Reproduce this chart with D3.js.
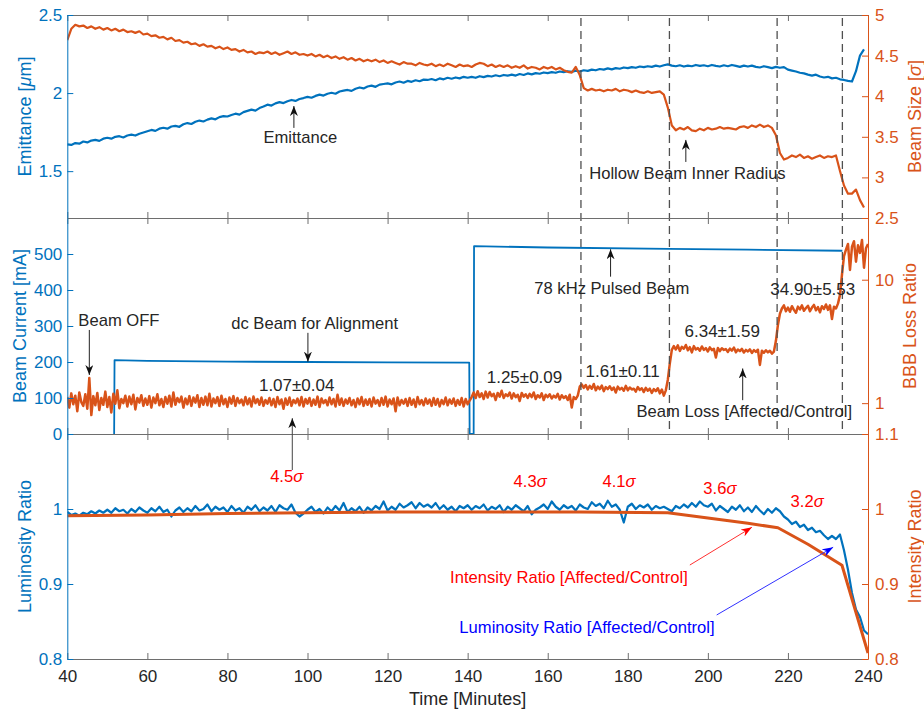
<!DOCTYPE html>
<html>
<head>
<meta charset="utf-8">
<script src="https://cdn.jsdelivr.net/npm/d3@7"></script>
<style>
  html, body { margin: 0; padding: 0; background: #fff; }
  svg { display: block; }
</style>
</head>
<body>
<svg id="chart" width="924" height="710"></svg>
<script>
// ---------------- data ----------------
// x axis
const xTicks = [40, 60, 80, 100, 120, 140, 160, 180, 200, 220, 240];

// top panel: emittance (left axis) and hollow beam inner radius (right axis), one sample per minute from t = 40
const emitStart = 40, emitStep = 1;
const emittance = [
  1.672,1.668,1.680,1.676,1.690,1.684,1.696,1.700,1.694,1.708,
  1.714,1.708,1.720,1.724,1.716,1.728,1.734,1.728,1.740,1.748,
  1.756,1.764,1.758,1.772,1.778,1.772,1.786,1.790,1.784,1.800,
  1.808,1.802,1.816,1.824,1.818,1.830,1.838,1.832,1.846,1.852,
  1.850,1.860,1.868,1.862,1.878,1.886,1.894,1.888,1.904,1.914,
  1.926,1.920,1.934,1.942,1.936,1.948,1.956,1.950,1.962,1.968,
  1.976,1.970,1.982,1.990,1.984,1.996,2.002,1.996,2.010,2.016,
  2.020,2.014,2.028,2.036,2.030,2.042,2.048,2.040,2.054,2.058,
  2.062,2.056,2.068,2.074,2.066,2.078,2.072,2.082,2.076,2.086,
  2.084,2.090,2.082,2.094,2.088,2.098,2.092,2.100,2.094,2.104,
  2.098,2.104,2.098,2.108,2.102,2.110,2.106,2.114,2.108,2.116,
  2.112,2.118,2.112,2.122,2.116,2.126,2.120,2.128,2.124,2.132,
  2.128,2.134,2.130,2.138,2.134,2.140,2.136,2.144,2.138,2.146,
  2.142,2.150,2.146,2.154,2.150,2.158,2.152,2.160,2.156,2.164,
  2.160,2.166,2.162,2.170,2.166,2.172,2.168,2.176,2.170,2.178,
  2.184,2.176,2.172,2.178,2.170,2.176,2.172,2.180,2.174,2.178,
  2.172,2.180,2.174,2.170,2.178,2.172,2.180,2.174,2.168,2.176,
  2.170,2.176,2.168,2.164,2.172,2.166,2.160,2.168,2.162,2.166,
  2.150,2.144,2.138,2.130,2.126,2.118,2.112,2.118,2.106,2.100,
  2.104,2.094,2.098,2.088,2.084,2.078,2.074,2.140,2.240,2.280
];
const beamSize = [
  4.69,4.83,4.88,4.86,4.87,4.84,4.86,4.83,4.85,4.82,
  4.84,4.81,4.83,4.80,4.82,4.79,4.80,4.78,4.80,4.76,
  4.77,4.74,4.75,4.72,4.73,4.70,4.72,4.68,4.69,4.66,
  4.67,4.64,4.65,4.62,4.64,4.61,4.62,4.59,4.61,4.58,
  4.60,4.57,4.58,4.55,4.57,4.54,4.55,4.52,4.54,4.53,
  4.55,4.52,4.54,4.51,4.53,4.55,4.52,4.54,4.51,4.52,
  4.50,4.52,4.49,4.51,4.48,4.50,4.47,4.49,4.46,4.48,
  4.45,4.47,4.44,4.46,4.43,4.45,4.43,4.45,4.42,4.44,
  4.41,4.43,4.41,4.39,4.42,4.40,4.40,4.38,4.41,4.39,
  4.38,4.40,4.37,4.39,4.37,4.40,4.38,4.36,4.39,4.37,
  4.38,4.36,4.39,4.41,4.40,4.37,4.39,4.36,4.38,4.36,
  4.38,4.35,4.37,4.35,4.38,4.34,4.36,4.35,4.33,4.36,
  4.34,4.36,4.33,4.35,4.32,4.30,4.29,4.36,4.26,4.10,
  4.07,4.09,4.07,4.08,4.06,4.08,4.07,4.09,4.06,4.08,
  4.07,4.05,4.07,4.05,4.04,4.06,4.04,4.05,4.06,4.02,
  3.86,3.64,3.58,3.61,3.59,3.62,3.58,3.57,3.60,3.58,
  3.61,3.59,3.60,3.62,3.60,3.61,3.60,3.59,3.62,3.63,
  3.61,3.64,3.62,3.65,3.62,3.64,3.61,3.52,3.30,3.22,
  3.24,3.27,3.25,3.28,3.24,3.26,3.23,3.25,3.27,3.24,
  3.26,3.25,3.27,3.08,2.90,2.80,2.80,2.85,2.72,2.63
];

// middle panel: beam current [mA] (left axis)
const currentTime  = [51.7, 51.8, 60, 80, 100, 120, 140.4, 140.5, 141.5, 141.6, 160, 190, 210, 233.6];
const currentValue = [0,    205,  203, 201, 200, 199, 198,   0,     0,     522,   518, 514, 512, 509];

// middle panel: BBB loss ratio (right, log axis), one sample per half minute from t = 40
const lossStart = 40, lossStep = 0.5;
const lossRatio = [
  1.12,0.92,1.20,0.98,1.15,0.86,1.22,1.02,0.95,1.18,
  0.90,1.60,0.80,1.14,0.96,1.21,0.88,1.10,0.97,1.24,
  0.93,1.12,0.84,1.19,0.99,1.27,0.91,1.08,1.00,1.15,
  0.94,1.13,0.98,1.17,0.89,1.10,1.01,1.16,0.95,1.09,
  0.97,1.14,0.92,1.11,1.00,1.18,0.96,1.08,0.93,1.12,
  0.99,1.15,0.94,1.22,0.97,1.10,1.02,1.13,0.92,1.09,
  0.98,1.14,0.95,1.11,1.01,1.16,0.93,1.10,0.97,1.13,
  0.96,1.19,0.94,1.09,1.00,1.12,0.95,1.15,0.98,1.08,
  0.93,1.11,0.99,1.14,0.95,1.10,1.00,1.07,0.96,1.12,
  0.98,1.09,0.94,1.13,1.00,1.08,0.97,1.11,0.95,1.06,
  0.99,1.10,0.96,1.08,0.93,1.12,0.98,1.07,0.90,1.09,
  0.97,1.11,0.95,1.06,1.00,1.09,0.96,1.12,0.94,1.08,
  0.99,1.10,0.95,1.07,0.97,1.13,0.93,1.09,1.00,1.06,
  0.96,1.11,0.98,1.08,0.94,1.17,0.97,1.09,0.95,1.07,
  0.99,1.10,0.96,1.06,0.93,1.09,0.98,1.12,0.95,1.07,
  0.97,1.08,0.94,1.11,0.99,1.06,0.95,1.10,0.97,1.13,
  0.94,1.07,0.98,1.09,0.86,1.11,0.96,1.06,0.99,1.08,
  0.95,1.10,0.97,1.07,0.93,1.12,0.98,1.06,0.96,1.09,
  0.99,1.07,0.95,1.10,0.97,1.08,0.94,1.06,0.98,1.11,
  0.96,1.07,0.99,1.09,0.95,1.06,0.97,1.10,0.94,1.08,
  0.98,1.05,1.12,1.22,1.10,1.25,1.12,1.20,1.08,1.24,
  1.11,1.23,1.14,1.19,1.06,1.21,1.13,1.26,1.10,1.18,
  1.14,1.22,1.09,1.20,1.12,1.17,1.04,1.21,1.13,1.18,
  1.10,1.19,1.12,1.22,1.08,1.16,1.11,1.20,1.06,1.17,
  1.12,1.18,1.09,1.15,1.11,1.19,1.07,1.16,1.10,1.14,
  1.06,1.17,0.92,1.12,1.08,1.15,1.36,1.42,1.33,1.40,
  1.29,1.38,1.31,1.43,1.27,1.36,1.30,1.39,1.25,1.35,
  1.30,1.37,1.28,1.34,1.22,1.36,1.29,1.33,1.26,1.38,
  1.27,1.34,1.29,1.31,1.24,1.35,1.28,1.32,1.23,1.33,
  1.26,1.31,1.21,1.30,1.25,1.32,1.20,1.29,1.15,1.27,
  1.55,2.10,2.70,2.90,2.72,2.94,2.65,2.86,2.76,2.96,
  2.68,2.84,2.58,2.90,2.72,2.80,2.66,2.88,2.70,2.79,
  2.62,2.83,2.69,2.76,2.34,2.80,2.64,2.78,2.70,2.74,
  2.60,2.77,2.66,2.82,2.58,2.72,2.64,2.75,2.57,2.70,
  2.62,2.73,2.55,2.69,2.60,2.71,2.04,2.66,2.56,2.68,
  2.58,2.66,2.52,2.62,3.20,4.30,5.30,5.85,6.20,5.55,
  5.95,5.50,6.10,5.70,5.40,6.05,5.75,6.20,5.60,5.90,
  6.15,5.55,5.95,6.25,5.65,6.00,5.45,6.10,5.80,6.30,
  5.70,6.20,4.80,6.05,5.85,6.40,7.50,11.0,15.5,17.5,
  19.5,12.0,18.5,20.5,14.0,19.0,16.5,21.0,12.5,18.0,
  19.5
];

// bottom panel: luminosity ratio (left), one sample per minute from t = 40
const lumStart = 40, lumStep = 1;
const luminosity = [
  0.996,0.992,0.994,0.991,0.995,0.993,0.997,0.994,0.998,0.995,
  0.999,0.995,1.001,0.997,0.999,0.994,1.000,0.996,1.002,0.998,
  0.995,1.001,0.997,1.003,0.996,0.999,0.990,0.998,1.002,0.996,
  1.001,0.997,1.004,0.998,1.000,1.006,0.997,1.003,0.999,1.002,
  0.996,1.004,0.998,1.001,0.995,1.003,0.999,1.005,0.997,1.002,
  0.998,1.004,0.996,1.005,1.001,0.999,1.006,0.995,0.990,0.994,
  0.999,1.003,0.996,1.000,0.994,1.002,0.997,1.004,0.998,1.008,
  0.996,1.001,0.997,1.003,0.995,1.002,0.998,1.004,1.000,1.010,
  0.998,1.003,0.999,1.007,1.002,1.005,1.009,1.001,1.008,1.003,
  1.006,1.002,1.008,1.000,1.005,0.999,1.003,0.997,1.004,1.001,
  1.005,0.999,1.004,1.001,1.006,0.998,1.003,1.000,1.005,0.996,
  1.003,0.999,1.005,1.001,0.997,1.004,0.993,0.999,1.002,1.006,
  1.000,1.010,1.003,0.999,1.005,1.001,1.004,0.998,1.006,1.002,
  1.000,1.009,1.004,1.007,1.001,1.011,1.003,1.006,0.999,0.982,
  1.003,1.007,1.000,1.005,1.002,1.006,0.999,1.004,1.001,1.003,
  1.000,0.997,1.004,1.001,1.006,1.002,1.008,1.003,1.010,1.005,
  1.003,1.007,0.998,1.004,1.000,0.996,1.003,0.999,1.005,0.997,
  1.002,0.996,1.004,0.998,0.993,1.000,0.995,1.001,0.997,0.990,
  0.986,0.980,0.983,0.976,0.979,0.972,0.975,0.969,0.971,0.965,
  0.960,0.964,0.960,0.966,0.945,0.919,0.888,0.866,0.856,0.838,
  0.833
];

// bottom panel: intensity ratio (right)
const intensityTime  = [40,    60,    80,    100,   120,   141,   168,   190,   200,   210,   217.5, 225,   233.5, 240];
const intensityRatio = [0.991, 0.992, 0.994, 0.995, 0.996, 0.996, 0.996, 0.995, 0.988, 0.981, 0.975, 0.953, 0.925, 0.808];

// times at which the hollow-beam radius was stepped
const stepTimes = [168.3, 190.4, 217.3, 233.6];

// axis ticks
const emitTicks = [1.5, 2, 2.5];
const sizeTicks = [2.5, 3, 3.5, 4, 4.5, 5];
const currentTicks = [0, 100, 200, 300, 400, 500];
const lossTicks = [1, 10];
const lumTicks = [0.8, 0.9, 1];
const intensityTicks = [0.8, 0.9, 1, 1.1];

// annotation texts
const lossStats = ["1.07±0.04", "1.25±0.09", "1.61±0.11", "6.34±1.59", "34.90±5.53"];
const sigmaSteps = ["4.5", "4.3", "4.1", "3.6", "3.2"];

// ---------------- layout ----------------
const FONT = '"Liberation Sans", Arial, Helvetica, sans-serif';
const BLUE = "#0072BD", ORANGE = "#D95319", FRAME = "#6e6e6e", INK = "#262626";
const NOTE_SIZE = 16.6;
const plotLeft = 67.3, plotRight = 868;
const topP = {y0: 15, y1: 218}, midP = {y0: 218, y1: 434}, botP = {y0: 434, y1: 659};

const svg = d3.select("#chart").attr("font-family", FONT);
svg.append("rect").attr("width", 924).attr("height", 710).attr("fill", "#fff");

const x = d3.scaleLinear().domain([40, 240]).range([plotLeft, plotRight]);
const yEmit = d3.scaleLinear().domain([1.2, 2.5]).range([topP.y1, topP.y0]);
const ySize = d3.scaleLinear().domain([2.5, 5]).range([topP.y1, topP.y0]);
const yCur = d3.scaleLinear().domain([0, 600]).range([midP.y1, midP.y0]);
const yLoss = d3.scaleLog().domain([Math.pow(10, -0.25), Math.pow(10, 1.5)]).range([midP.y1, midP.y0]);
const yLum = d3.scaleLinear().domain([0.8, 1.1]).range([botP.y1, botP.y0]);
const yInt = d3.scaleLinear().domain([0.8, 1.1]).range([botP.y1, botP.y0]);

const defs = svg.append("defs");
[["clipTop", topP], ["clipMid", midP], ["clipBot", botP]].forEach(([id, p]) => {
  defs.append("clipPath").attr("id", id).append("rect")
    .attr("x", plotLeft).attr("y", p.y0 - 1)
    .attr("width", plotRight - plotLeft + 1).attr("height", p.y1 - p.y0 + 2);
});

function arrowMarker(id, color, len, wid) {
  defs.append("marker").attr("id", id)
    .attr("markerUnits", "userSpaceOnUse")
    .attr("viewBox", `0 0 ${len} ${wid}`)
    .attr("markerWidth", len).attr("markerHeight", wid)
    .attr("refX", len).attr("refY", wid / 2)
    .attr("orient", "auto")
    .append("path")
    .attr("d", `M0,0L${len},${wid / 2}L0,${wid}L${len * 0.3},${wid / 2}Z`)
    .attr("fill", color);
}
arrowMarker("headBlack", "#111", 10, 8);
arrowMarker("headRed", "#ff0000", 11, 8);
arrowMarker("headBlue", "#0000ff", 11, 8);

// ---------------- frames and axes ----------------
function xFrame(p, labelled) {
  const bottom = svg.append("g").attr("transform", `translate(0,${p.y1})`)
    .call(d3.axisBottom(x).tickValues(xTicks).tickSizeInner(-6).tickSizeOuter(0)
      .tickPadding(11).tickFormat(labelled ? d3.format("d") : ""));
  const top = svg.append("g").attr("transform", `translate(0,${p.y0})`)
    .call(d3.axisTop(x).tickValues(xTicks).tickSizeInner(-6).tickSizeOuter(0).tickFormat(""));
  [bottom, top].forEach(g => g.attr("color", FRAME).attr("font-size", 17).attr("font-family", FONT));
  bottom.selectAll("text").attr("fill", INK);
}
function yAxisLeft(scale, ticks, color) {
  svg.append("g").attr("transform", `translate(${plotLeft},0)`)
    .call(d3.axisLeft(scale).tickValues(ticks).tickSizeInner(-6).tickSizeOuter(0)
      .tickPadding(5).tickFormat(d => String(d)))
    .attr("color", color).attr("font-size", 17).attr("font-family", FONT);
}
function yAxisRight(scale, ticks, color) {
  svg.append("g").attr("transform", `translate(${plotRight},0)`)
    .call(d3.axisRight(scale).tickValues(ticks).tickSizeInner(-6).tickSizeOuter(0)
      .tickPadding(7).tickFormat(d => String(d)))
    .attr("color", color).attr("font-size", 17).attr("font-family", FONT);
}

// ---------------- series ----------------
function seriesPath(clip, values, xOf, yScale, color, width) {
  svg.append("path").attr("clip-path", `url(#${clip})`)
    .datum(values)
    .attr("fill", "none").attr("stroke", color).attr("stroke-width", width)
    .attr("stroke-linejoin", "round")
    .attr("d", d3.line().x(xOf).y(d => yScale(d)));
}

// top panel
seriesPath("clipTop", emittance, (d, i) => x(emitStart + i * emitStep), yEmit, BLUE, 2.2);
seriesPath("clipTop", beamSize, (d, i) => x(emitStart + i * emitStep), ySize, ORANGE, 2.2);

// middle panel
seriesPath("clipMid", currentValue, (d, i) => x(currentTime[i]), yCur, BLUE, 1.8);
seriesPath("clipMid", lossRatio, (d, i) => x(lossStart + i * lossStep), yLoss, ORANGE, 2.5);

// bottom panel
seriesPath("clipBot", luminosity, (d, i) => x(lumStart + i * lumStep), yLum, BLUE, 2.2);
seriesPath("clipBot", intensityRatio, (d, i) => x(intensityTime[i]), yInt, ORANGE, 3);

// radius step markers
svg.append("g").selectAll("line").data(stepTimes).join("line")
  .attr("x1", d => x(d)).attr("x2", d => x(d))
  .attr("y1", topP.y0 + 3).attr("y2", midP.y1)
  .attr("stroke", "#505050").attr("stroke-width", 1.3).attr("stroke-dasharray", "8,5");

// axes drawn over the data
xFrame(topP, false);
xFrame(midP, false);
xFrame(botP, true);
yAxisLeft(yEmit, emitTicks, BLUE);
yAxisRight(ySize, sizeTicks, ORANGE);
yAxisLeft(yCur, currentTicks, BLUE);
yAxisRight(yLoss, lossTicks, ORANGE);
yAxisLeft(yLum, lumTicks, BLUE);
yAxisRight(yInt, intensityTicks, ORANGE);

// ---------------- axis titles ----------------
function vTitle(cx, cy, parts, color) {
  const t = svg.append("text")
    .attr("transform", `translate(${cx},${cy}) rotate(-90)`)
    .attr("text-anchor", "middle").attr("dy", "0.35em")
    .attr("font-size", 18).attr("fill", color);
  parts.forEach(([s, italic]) => t.append("tspan").text(s).attr("font-style", italic ? "italic" : null));
}
const midY = p => (p.y0 + p.y1) / 2;
vTitle(25, midY(topP), [["Emittance [", false], ["μ", true], ["m]", false]], BLUE);
vTitle(915, midY(topP), [["Beam Size [", false], ["σ", true], ["]", false]], ORANGE);
vTitle(19.5, midY(midP), [["Beam Current [mA]", false]], BLUE);
vTitle(910, midY(midP), [["BBB Loss Ratio", false]], ORANGE);
vTitle(25, midY(botP), [["Luminosity Ratio", false]], BLUE);
vTitle(915, midY(botP), [["Intensity Ratio", false]], ORANGE);

svg.append("text").attr("x", (plotLeft + plotRight) / 2).attr("y", 705)
  .attr("text-anchor", "middle").attr("font-size", 18).attr("fill", INK)
  .text("Time [Minutes]");

// ---------------- annotations ----------------
function note(text, t, yPix, color, size) {
  return svg.append("text").attr("x", x(t)).attr("y", yPix)
    .attr("text-anchor", "middle").attr("font-size", size || NOTE_SIZE)
    .attr("fill", color || INK).text(text);
}
function arrow(t1, y1, t2, y2, head, color, width) {
  svg.append("line")
    .attr("x1", x(t1)).attr("y1", y1).attr("x2", x(t2)).attr("y2", y2)
    .attr("stroke", color).attr("stroke-width", width)
    .attr("marker-end", `url(#${head})`);
}

// top panel
note("Emittance", 98.2, yEmit(1.681));
arrow(96.6, yEmit(1.777), 96.6, yEmit(1.917), "headBlack", "#222", 1);
note("Hollow Beam Inner Radius", 194.9, yEmit(1.45));
arrow(194.5, yEmit(1.559), 194.5, yEmit(1.70), "headBlack", "#222", 1);

// middle panel
note("Beam OFF", 52.9, yCur(300));
arrow(45.5, yCur(289), 45.5, yCur(164), "headBlack", "#222", 1);
note("dc Beam for Alignment", 101.8, yCur(291));
arrow(100.1, yCur(281), 100.1, yCur(201), "headBlack", "#222", 1);
note("78 kHz Pulsed Beam", 176.0, yCur(389));
arrow(175.7, yCur(437), 175.7, yCur(513), "headBlack", "#222", 1);
note("Beam Loss [Affected/Control]", 209.1, yCur(48));
arrow(208.7, yCur(94), 208.7, yCur(182), "headBlack", "#222", 1);
arrow(96.2, yLum(1.052), 96.2, yCur(44), "headBlack", "#444", 1);

const statPos = [[97.3, 120], [154.2, 141], [178.7, 157.5], [203.6, 270], [226.2, 386]];
lossStats.forEach((s, i) => note(s, statPos[i][0], yCur(statPos[i][1]), INK, 17));

// bottom panel
const sigmaPos = [[94.8, 1.036], [155.6, 1.0297], [177.8, 1.0297], [203.0, 1.02], [224.8, 1.0023]];
sigmaSteps.forEach((s, i) => {
  const t = note(s, sigmaPos[i][0], yLum(sigmaPos[i][1]), "#ff0000", NOTE_SIZE);
  t.append("tspan").attr("font-style", "italic").text("σ");
});
note("Intensity Ratio [Affected/Control]", 165.3, yLum(0.9009), "#ff0000", NOTE_SIZE);
arrow(195.5, yLum(0.9253), 211.0, yLum(0.9756), "headRed", "#ff3030", 1);
note("Luminosity Ratio [Affected/Control]", 169.8, yLum(0.8343), "#0000ff", NOTE_SIZE);
arrow(202.2, yLum(0.8587), 231.3, yLum(0.949), "headBlue", "#3030ff", 1);
</script>
</body>
</html>
